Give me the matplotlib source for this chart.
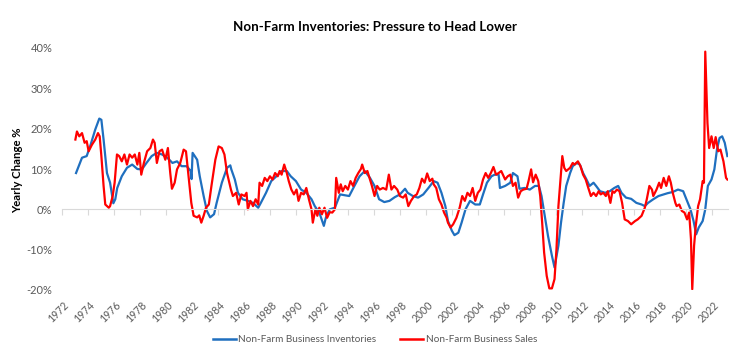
import numpy as np
import matplotlib
matplotlib.use('Agg')
import matplotlib.pyplot as plt
from matplotlib.lines import Line2D
import matplotlib.transforms as mtransforms

# --- data (year, yearly change %) ---
inv_years = [1973.08, 1973.54, 1973.9, 1974.2, 1974.56, 1974.87, 1975.03, 1975.2, 1975.46, 1975.7,
             1975.95, 1976.1, 1976.25, 1976.6, 1977.0, 1977.4, 1977.8, 1978.15, 1978.5, 1978.9,
             1979.3, 1979.7, 1980.1, 1980.5, 1980.85, 1981.2, 1981.6, 1981.9, 1981.97, 1982.05,
             1982.4, 1982.6, 1982.9, 1983.15, 1983.4, 1983.7, 1983.9, 1984.3, 1984.7, 1984.95,
             1985.03, 1985.3, 1985.54, 1985.9, 1986.3, 1986.7, 1987.1, 1987.3, 1987.7, 1988.1,
             1988.5, 1988.9, 1989.3, 1989.6, 1990.0, 1990.4, 1990.8, 1991.2, 1991.45, 1991.8,
             1992.15, 1992.3, 1992.6, 1993.0, 1993.4, 1993.75, 1994.1, 1994.5, 1994.9, 1995.3,
             1995.7, 1996.05, 1996.4, 1996.8, 1997.2, 1997.6, 1998.0, 1998.4, 1998.6, 1999.0,
             1999.4, 1999.8, 2000.2, 2000.6, 2000.9, 2001.2, 2001.5, 2001.7, 2002.0, 2002.2,
             2002.5, 2002.75, 2003.05, 2003.4, 2003.8, 2004.15, 2004.4, 2004.7, 2005.05, 2005.3,
             2005.6, 2005.7, 2006.1, 2006.5, 2006.7, 2007.05, 2007.2, 2007.6, 2008.0, 2008.4,
             2008.7, 2008.9, 2009.15, 2009.4, 2009.7, 2009.9, 2010.2, 2010.4, 2010.6, 2010.8,
             2011.1, 2011.3, 2011.6, 2011.85, 2012.1, 2012.36, 2012.6, 2012.9, 2013.1, 2013.4,
             2013.8, 2014.15, 2014.5, 2014.8, 2015.05, 2015.4, 2015.8, 2016.2, 2016.6, 2016.85,
             2017.1, 2017.5, 2017.9, 2018.3, 2018.6, 2019.0, 2019.4, 2019.8, 2020.05, 2020.36,
             2020.6, 2020.8, 2021.0, 2021.3, 2021.5, 2021.7, 2021.98, 2022.2, 2022.4, 2022.6,
             2022.8, 2023.0, 2023.2]
inv_values = [9.0, 12.8, 13.2, 16.0, 19.8, 22.5, 22.2, 17.3, 9.0, 6.6,
              1.5, 2.5, 5.3, 8.2, 10.3, 11.1, 10.0, 9.9, 11.5, 13.2,
              14.0, 13.6, 12.8, 11.5, 11.9, 10.7, 10.7, 9.5, 7.5, 14.0,
              12.3, 8.2, 3.3, -0.4, -2.0, -1.2, 1.6, 6.6, 10.3, 10.9,
              9.9, 7.4, 4.1, 2.5, 2.1, 1.6, 0.4, 1.6, 4.1, 7.0,
              8.2, 9.5, 9.5, 8.2, 7.0, 4.9, 4.1, 2.5, 0.8, -0.8,
              -4.1, -2.1, 0.0, 0.4, 3.7, 3.5, 3.3, 5.8, 8.2, 9.5,
              7.8, 5.8, 2.5, 1.8, 2.1, 3.0, 3.7, 5.1, 4.1, 3.3,
              2.9, 3.7, 5.3, 7.0, 6.6, 4.1, 0.8, -2.9, -5.3, -6.4,
              -5.8, -3.3, 0.0, 2.1, 1.2, 1.2, 3.7, 6.6, 8.2, 8.6,
              8.6, 5.3, 5.8, 6.6, 9.0, 8.2, 5.1, 5.3, 4.9, 5.8,
              5.8, 3.3, -1.6, -6.6, -11.5, -14.4, -9.0, -3.3, 1.5, 5.8,
              9.0, 10.7, 11.5, 11.1, 9.0, 7.4, 5.8, 6.6, 5.8, 4.5,
              4.1, 4.5, 5.3, 5.8, 4.1, 2.9, 2.6, 1.6, 1.2, 0.8,
              1.6, 2.5, 3.3, 3.7, 4.0, 4.3, 4.9, 4.5, 2.5, 0.0,
              -2.9, -6.2, -4.5, -2.9, 0.0, 5.8, 7.4, 9.9, 14.8, 17.7,
              18.1, 16.5, 13.2]

sales_years = [1973.03, 1973.15, 1973.33, 1973.54, 1973.74, 1973.9, 1974.05, 1974.3, 1974.56, 1974.77,
               1974.9, 1975.03, 1975.2, 1975.33, 1975.6, 1975.7, 1975.9, 1976.05, 1976.23, 1976.4,
               1976.6, 1976.8, 1977.0, 1977.2, 1977.4, 1977.6, 1977.8, 1977.95, 1978.1, 1978.3,
               1978.55, 1978.8, 1979.0, 1979.13, 1979.3, 1979.5, 1979.7, 1979.95, 1980.15, 1980.33,
               1980.46, 1980.67, 1980.85, 1981.1, 1981.36, 1981.54, 1981.74, 1981.95, 1982.13, 1982.4,
               1982.56, 1982.72, 1982.9, 1983.08, 1983.3, 1983.5, 1983.8, 1984.05, 1984.3, 1984.5,
               1984.7, 1985.0, 1985.15, 1985.4, 1985.6, 1985.8, 1986.05, 1986.2, 1986.3, 1986.5,
               1986.7, 1986.9, 1987.1, 1987.2, 1987.4, 1987.6, 1987.8, 1988.0, 1988.2, 1988.4,
               1988.6, 1988.75, 1988.9, 1989.1, 1989.3, 1989.45, 1989.65, 1989.85, 1990.05, 1990.2,
               1990.4, 1990.6, 1990.8, 1991.0, 1991.2, 1991.3, 1991.5, 1991.65, 1991.8, 1992.0,
               1992.2, 1992.4, 1992.6, 1992.8, 1993.0, 1993.1, 1993.3, 1993.45, 1993.6, 1993.8,
               1994.0, 1994.2, 1994.4, 1994.6, 1994.8, 1995.0, 1995.1, 1995.3, 1995.5, 1995.7,
               1995.85, 1996.05, 1996.25, 1996.45, 1996.7, 1996.95, 1997.15, 1997.35, 1997.55, 1997.8,
               1998.0, 1998.25, 1998.45, 1998.65, 1998.85, 1999.1, 1999.3, 1999.5, 1999.7, 1999.9,
               2000.1, 2000.3, 2000.5, 2000.6, 2000.8, 2001.0, 2001.2, 2001.4, 2001.6, 2001.7,
               2001.9, 2002.1, 2002.35, 2002.6, 2002.8, 2003.0, 2003.2, 2003.4, 2003.6, 2003.8,
               2004.0, 2004.2, 2004.4, 2004.6, 2004.8, 2005.0, 2005.2, 2005.4, 2005.6, 2005.8,
               2006.1, 2006.3, 2006.5, 2006.7, 2006.9, 2007.1, 2007.3, 2007.5, 2007.75, 2007.9,
               2008.1, 2008.25, 2008.45, 2008.65, 2008.8, 2008.95, 2009.1, 2009.3, 2009.5, 2009.7,
               2009.9, 2010.05, 2010.2, 2010.35, 2010.5, 2010.65, 2010.8, 2011.1, 2011.3, 2011.45,
               2011.7, 2011.9, 2012.1, 2012.3, 2012.5, 2012.7, 2012.9, 2013.1, 2013.3, 2013.45,
               2013.65, 2013.85, 2014.0, 2014.2, 2014.36, 2014.5, 2014.7, 2014.9, 2015.1, 2015.3,
               2015.55, 2015.8, 2016.1, 2016.3, 2016.6, 2016.85, 2017.0, 2017.2, 2017.4, 2017.5,
               2017.75, 2017.95, 2018.1, 2018.3, 2018.5, 2018.7, 2018.85, 2019.0, 2019.2, 2019.3,
               2019.5, 2019.7, 2019.9, 2020.1, 2020.26, 2020.4, 2020.5, 2020.64, 2020.77, 2020.95,
               2021.1, 2021.3, 2021.4, 2021.5, 2021.67, 2021.8, 2021.98, 2022.15, 2022.3, 2022.5,
               2022.67, 2022.9, 2023.1, 2023.2]
sales_values = [17.3, 19.3, 18.1, 18.9, 16.5, 16.9, 14.4, 16.0, 17.3, 18.9,
                18.1, 13.2, 5.8, 1.2, 0.4, 0.8, 3.3, 6.6, 13.6, 13.2,
                11.9, 13.6, 11.1, 13.6, 12.8, 13.6, 11.1, 14.0, 8.6, 11.5,
                14.4, 15.2, 17.3, 16.5, 11.5, 14.4, 14.8, 12.3, 15.2, 9.0,
                5.1, 6.6, 9.9, 11.5, 14.8, 14.4, 8.2, 1.6, -1.6, -2.0,
                -1.5, -3.3, -1.6, 0.4, 1.2, 5.8, 12.3, 15.6, 15.2, 13.6,
                9.0, 4.9, 3.3, 4.1, 1.2, 3.7, 3.3, 4.1, 0.0, 2.1,
                0.8, 2.5, 1.2, 6.6, 5.8, 7.8, 7.0, 8.2, 7.4, 9.0,
                8.2, 9.5, 8.6, 11.1, 9.0, 7.0, 4.9, 3.7, 4.9, 2.1,
                4.1, 3.7, 5.3, 2.5, 0.0, -3.3, 0.0, -1.6, 0.4, -1.2,
                0.4, -2.1, -0.7, -0.8, 0.0, 7.8, 4.1, 6.2, 4.5, 5.8,
                4.9, 7.0, 5.8, 7.8, 9.0, 10.0, 11.1, 9.0, 9.5, 7.4,
                5.8, 3.3, 5.8, 4.9, 5.3, 4.9, 8.6, 4.9, 5.8, 4.9,
                3.3, 2.9, 3.7, 0.8, 2.1, 3.3, 3.7, 5.3, 7.6, 6.6,
                8.9, 7.0, 7.6, 6.2, 5.3, 2.5, 1.2, -0.8, -2.1, -3.3,
                -4.5, -3.7, -2.1, 0.4, 3.3, 2.1, 4.1, 3.3, 5.3, 2.1,
                4.1, 4.9, 7.4, 9.0, 7.8, 9.0, 10.5, 8.6, 9.0, 9.5,
                7.4, 8.2, 8.6, 5.8, 6.6, 2.9, 4.5, 4.9, 5.1, 7.0,
                9.9, 6.7, 8.6, 7.0, 3.3, -3.3, -10.7, -16.5, -19.6, -19.6,
                -17.3, -9.9, 0.8, 7.0, 13.2, 10.3, 9.5, 10.3, 11.5, 11.1,
                11.9, 10.7, 8.6, 7.4, 5.3, 3.3, 4.1, 3.3, 4.5, 3.7,
                4.1, 3.3, 4.5, 1.6, 4.5, 4.1, 4.9, 4.5, 1.6, -2.5,
                -2.9, -3.7, -2.9, -2.5, -1.6, 0.4, 2.5, 5.8, 4.9, 3.3,
                4.9, 6.6, 5.3, 7.8, 5.8, 8.2, 6.6, 4.1, 1.6, 0.8,
                1.2, -0.4, -0.8, -2.5, -0.8, -7.4, -19.8, -9.0, -4.1, 0.8,
                2.5, 7.0, 6.6, 39.1, 21.4, 15.2, 18.1, 15.2, 17.9, 14.4,
                14.8, 11.9, 7.8, 7.4]

tick_years = list(range(1972, 2023, 2))
y_ticks = [-20, -10, 0, 10, 20, 30, 40]

TITLE = "Non-Farm Inventories: Pressure to Head Lower"
BLUE = '#1F6FBF'
RED = '#FF0000'
GREY_TXT = '#595959'
AXIS_GREY = '#D9D9D9'

plt.rcParams['font.family'] = ['Lato', 'DejaVu Sans']

fig = plt.figure(figsize=(7.56, 3.61), dpi=100, facecolor='white')
ax = fig.add_axes([62 / 756, 1 - 290 / 361, 666 / 756, 242 / 361])

ax.plot(inv_years, inv_values, color=BLUE, linewidth=1.6, solid_joinstyle='round')
ax.plot(sales_years, sales_values, color=RED, linewidth=1.6, solid_joinstyle='round')

ax.set_xlim(1972, 2023.25)
ax.set_ylim(-20, 40)

# axis styling (Excel look)
for side in ['top', 'right', 'left']:
    ax.spines[side].set_visible(False)
ax.spines['bottom'].set_position(('data', 0))
ax.spines['bottom'].set_color(AXIS_GREY)
ax.spines['bottom'].set_linewidth(0.8)

ax.set_xticks(tick_years)
ax.tick_params(axis='x', length=4, width=0.8, color=AXIS_GREY, labelbottom=False)
ax.set_yticks(y_ticks)
ax.set_yticklabels([f"{v}%" for v in y_ticks])
ax.tick_params(axis='y', length=0, pad=7, labelsize=8, labelcolor=GREY_TXT)

# year labels sit at the bottom of the plot area, not on the zero line
trans = mtransforms.blended_transform_factory(ax.transData, ax.transAxes)
for yr in tick_years:
    ax.text(yr + 0.1, -0.04, str(yr), transform=trans, rotation=45,
            rotation_mode='anchor', ha='right', va='top',
            fontsize=7.6, color=GREY_TXT)

fig.text(375 / 756, 1 - 27 / 361, TITLE, ha='center', va='center',
         fontsize=9.6, fontweight='bold', color='black')
fig.text(18 / 756, 1 - 170 / 361, "Yearly Change %", rotation=90,
         ha='center', va='center', fontsize=8.2, fontweight='bold', color='black')

handles = [Line2D([], [], color=BLUE, linewidth=1.8),
           Line2D([], [], color=RED, linewidth=1.8)]
fig.legend(handles, ["Non-Farm Business Inventories", "Non-Farm Business Sales"],
           loc='center', bbox_to_anchor=(375 / 756, 1 - 340 / 361), ncol=2,
           frameon=False, fontsize=7.2, handlelength=2.3, handletextpad=0.25,
           columnspacing=2.4, labelcolor=GREY_TXT)

fig.savefig('out.png', dpi=100, facecolor='white')
